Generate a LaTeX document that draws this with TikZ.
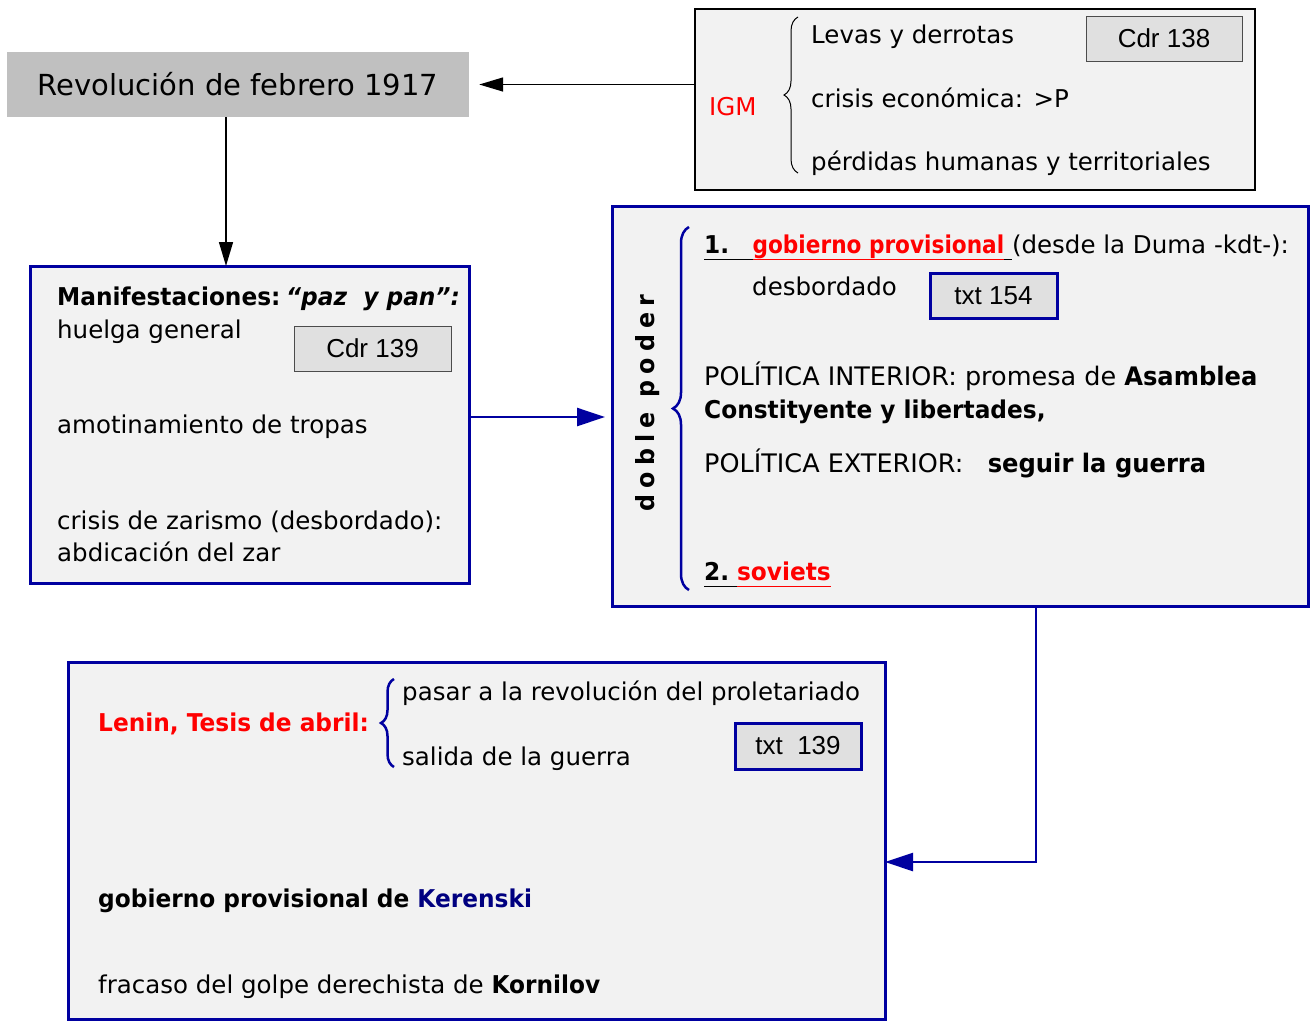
\documentclass[tikz,border=0pt]{standalone}
\usepackage{fontspec}
\setmainfont{DejaVu Sans}[BoldFeatures={FakeStretch=0.95},BoldItalicFeatures={FakeStretch=0.95}]
\newfontfamily\arialfont{Liberation Sans}
\usetikzlibrary{arrows.meta,positioning,decorations.pathreplacing}
\definecolor{boxblue}{RGB}{0,0,160}
\definecolor{boxgray}{RGB}{242,242,242}
\definecolor{titlegray}{RGB}{192,192,192}
\definecolor{refgray}{RGB}{224,224,224}
\definecolor{kernavy}{RGB}{0,0,128}
\newcommand{\undl}[1]{\underline{\vphantom{gp}#1}}

\begin{document}
\begin{tikzpicture}[x=1pt,y=-1pt,>={Triangle[length=24pt,width=14pt]},
	bluebox/.style={draw=boxblue,line width=3pt,fill=boxgray,inner sep=0pt,outer sep=0pt},
	blackbox/.style={draw=black,line width=2pt,fill=boxgray,inner sep=0pt,outer sep=0pt},
	titlenode/.style={fill=titlegray,inner sep=0pt,minimum width=462pt,minimum height=65pt,font=\fontsize{29}{34}\selectfont},
	cdrnode/.style={draw=black!70,line width=1pt,fill=refgray,inner sep=0pt,font=\arialfont\fontsize{26}{30}\selectfont},
	txtnode/.style={draw=boxblue,line width=3pt,fill=refgray,inner sep=0pt,font=\arialfont\fontsize{26}{30}\selectfont},
	textnode/.style={anchor=base west,inner sep=0pt,font=\fontsize{24.5}{29}\selectfont},
	bracestyle/.style={decorate,line width=#1},
	bluearrow/.style={-{Triangle[length=28pt,width=18pt]},draw=boxblue,line width=2.5pt}]
	
	\useasboundingbox (0,0) rectangle (1313,1021);
	
	% cajas
	\node [titlenode] (0) at (238,84.5) {Revolución de febrero 1917};
	\node [blackbox,minimum width=560pt,minimum height=181pt] (1) at (975,99.5) {};
	\node [bluebox,minimum width=439pt,minimum height=317pt] (2) at (249.5,424.5) {};
	\node [bluebox,minimum width=696pt,minimum height=400pt] (3) at (960,406) {};
	\node [bluebox,minimum width=817pt,minimum height=357pt] (4) at (476.5,840.5) {};
	
	\node [cdrnode,minimum width=156pt,minimum height=45pt] (5) at (1164,38.5) {Cdr 138};
	\node [cdrnode,minimum width=157pt,minimum height=45pt] (6) at (372.5,348.5) {Cdr 139};
	\node [txtnode,minimum width=127pt,minimum height=45pt] (7) at (993.5,295.5) {txt 154};
	\node [txtnode,minimum width=126pt,minimum height=46pt] (8) at (798,746) {txt\ \ 139};
	
	% IGM
	\node [textnode,text=red] (10) at (709,115) {IGM};
	\node [textnode] (11) at (811,43) {Levas y derrotas};
	\node [textnode] (12) at (811,107) {crisis económica: >P};
	\node [textnode] (13) at (811,170) {pérdidas humanas y territoriales};
	\coordinate (10a) at (798,173);
	\coordinate (10b) at (798,17);
	\draw [bracestyle=1pt,decoration={brace,amplitude=14pt}] (10a) -- (10b);
	
	% manifestaciones
	\node [textnode] (20) at (57,305) {\textbf{Manifestaciones:}};
	\node [textnode] (20b) at (286,305) {\textbf{\textit{“paz\ \ y pan”:}}};
	\node [textnode] (21) at (57,338) {huelga general};
	\node [textnode] (22) at (57,433) {amotinamiento de tropas};
	\node [textnode] (23) at (57,529) {crisis de zarismo (desbordado):};
	\node [textnode] (24) at (57,561) {abdicación del zar};
	
	% doble poder
	\node [rotate=90,inner sep=0pt,font=\fontsize{25}{29}\selectfont\bfseries\addfontfeature{LetterSpace=25}] (30) at (648,403) {doble poder};
	\node [textnode] (31) at (704,253) {\undl{\textbf{1.}\ \ \ }\textcolor{red}{\undl{\scalebox{0.93}[1]{\textbf{gobierno provisional}}}}\undl{\ }(desde la Duma -kdt-):};
	\node [textnode] (32) at (752,295) {desbordado};
	\node [textnode,font=\fontsize{25.5}{29}\selectfont] (33) at (704,385) {POLÍTICA INTERIOR: promesa de \textbf{Asamblea}};
	\node [textnode] (34) at (704,418) {\textbf{Constityente y libertades,}};
	\node [textnode,font=\fontsize{25.5}{29}\selectfont] (35) at (704,472) {POLÍTICA EXTERIOR:\ \ \ \textbf{seguir la guerra}};
	\node [textnode] (36) at (704,580) {\undl{\textbf{2.}\ }\textcolor{red}{\undl{\textbf{soviets}}}};
	\coordinate (30a) at (689,590);
	\coordinate (30b) at (689,227);
	\draw [bracestyle=2.5pt,draw=boxblue,decoration={brace,amplitude=16pt}] (30a) -- (30b);
	
	% Lenin
	\node [textnode,text=red,font=\fontsize{24.5}{29}\selectfont\bfseries] (40) at (98,731) {Lenin, Tesis de abril:};
	\node [textnode] (41) at (402,700) {pasar a la revolución del proletariado};
	\node [textnode] (42) at (402,765) {salida de la guerra};
	\node [textnode] (43) at (98,907) {\textbf{gobierno provisional de \textcolor{kernavy}{Kerenski}}};
	\node [textnode] (44) at (98,993) {fracaso del golpe derechista de \textbf{Kornilov}};
	\coordinate (40a) at (394,767);
	\coordinate (40b) at (394,679);
	\draw [bracestyle=2.5pt,draw=boxblue,decoration={brace,amplitude=13pt}] (40a) -- (40b);
	
	% flechas
	\coordinate (0b) at (226,117);
	\coordinate (2b) at (470,417);
	\coordinate (3b) at (1036,606);
	\coordinate (4b) at (885,862);
	\draw [->,line width=1.5pt,shorten >=10pt] (0.east -| 1.west) -- (0.east);
	\draw [->,line width=1.5pt] (0b) -- (0b |- 2.north);
	\draw [bluearrow,shorten >=7pt] (2b) -- (2b -| 3.west);
	\draw [bluearrow] (3b) |- (4b);
\end{tikzpicture}
\end{document}
